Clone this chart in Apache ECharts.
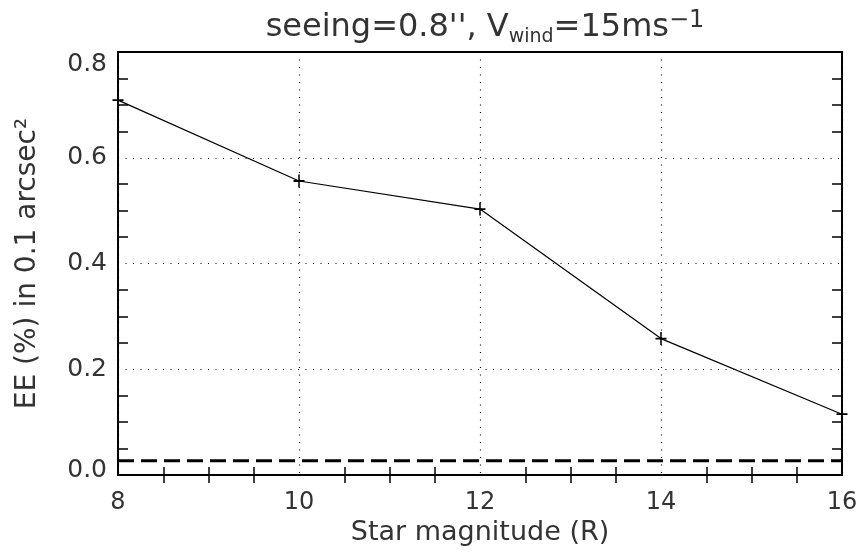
<!DOCTYPE html>
<html>
<head>
<meta charset="utf-8">
<script src="https://cdn.jsdelivr.net/npm/echarts@6/dist/echarts.min.js"></script>
<style>
  html, body { margin: 0; padding: 0; background: #fff; }
  #chart { width: 861px; height: 554px; }
</style>
</head>
<body>
<div id="chart"></div>
<script>
// star magnitude (R) and encircled energy values
var magnitudes = [8, 10, 12, 14, 16];
var eeValues = [0.709, 0.556, 0.503, 0.258, 0.115];
// dashed reference level
var baseLevel = 0.027;
var xTicks = [8, 10, 12, 14, 16];
var yTicks = [0.0, 0.2, 0.4, 0.6, 0.8];

var FONT = 'DejaVu Sans';
var TXT = '#333';

var mainLine = [];
for (var i = 0; i < magnitudes.length; i++) {
	mainLine.push([magnitudes[i], eeValues[i]]);
}
var baseLine = [
	[xTicks[0], baseLevel],
	[xTicks[xTicks.length - 1], baseLevel]
];

function xAxisBase(pos, showLabels) {
	return {
		type : 'value',
		position : pos,
		min : xTicks[0],
		max : xTicks[xTicks.length - 1],
		interval : 2,
		axisLine : { show : false },
		axisTick : { show : false, inside : true },
		minorTick : { show : true, splitNumber : 4, length : 8, lineStyle : { color : '#000', width : 1.5 } },
		splitLine : { show : showLabels, lineStyle : { color : '#000', width : 1.2, type : [1, 6.5] } },
		axisLabel : {
			show : showLabels,
			margin : 16,
			fontFamily : FONT,
			fontSize : 24,
			color : TXT
		}
	};
}

function yAxisBase(pos, showLabels) {
	return {
		type : 'value',
		position : pos,
		min : yTicks[0],
		max : yTicks[yTicks.length - 1],
		interval : 0.2,
		axisLine : { show : false },
		axisTick : { show : false, inside : true },
		minorTick : { show : true, splitNumber : 4, length : 10, lineStyle : { color : '#000', width : 1.5 } },
		splitLine : { show : showLabels, lineStyle : { color : '#000', width : 1.2, type : [1, 6.5] } },
		axisLabel : {
			show : showLabels,
			margin : 11,
			fontFamily : FONT,
			fontSize : 25,
			color : TXT,
			formatter : function (v) {
				if (v === yTicks[yTicks.length - 1]) {
					return '{top|' + v.toFixed(1) + '}';
				}
				if (v === yTicks[0]) {
					return '{bot|' + v.toFixed(1) + '}';
				}
				return v.toFixed(1);
			},
			rich : {
				top : { fontFamily : FONT, fontSize : 25, color : TXT, padding : [24, 0, 0, 0] },
				bot : { fontFamily : FONT, fontSize : 25, color : TXT, padding : [0, 0, 9, 0] }
			}
		}
	};
}

var xMain = xAxisBase('bottom', true);
xMain.name = 'Star magnitude (R)';
xMain.nameLocation = 'middle';
xMain.nameGap = 44;
xMain.nameTextStyle = { fontFamily : FONT, fontSize : 27, color : TXT };

var yMain = yAxisBase('left', true);
yMain.name = 'EE (%) in 0.1 arcsec²';
yMain.nameLocation = 'middle';
yMain.nameGap = 76;
yMain.nameTextStyle = { fontFamily : FONT, fontSize : 28, color : TXT };

var option = {
	backgroundColor : '#fff',
	animation : false,
	title : {
		text : '{n|seeing=0.8\'\', V}{sub|wind}{n|=15ms}{sup|−1}',
		left : 480,
		textAlign : 'center',
		top : 4,
		textStyle : {
			fontWeight : 'normal',
			rich : {
				n : { fontFamily : FONT, fontSize : 32, fontWeight : 'normal', color : TXT, lineHeight : 38, verticalAlign : 'middle' },
				sub : { fontFamily : FONT, fontSize : 19, fontWeight : 'normal', color : TXT, lineHeight : 22, verticalAlign : 'bottom' },
				sup : { fontFamily : FONT, fontSize : 24, fontWeight : 'normal', color : TXT, lineHeight : 26, verticalAlign : 'top' }
			}
		}
	},
	grid : {
		left : 118,
		right : 19,
		top : 52,
		bottom : 79,
		show : true,
		borderColor : '#000',
		borderWidth : 2,
		backgroundColor : 'transparent'
	},
	xAxis : [ xMain, xAxisBase('top', false) ],
	yAxis : [ yMain, yAxisBase('right', false) ],
	series : [ {
		type : 'line',
		data : mainLine,
		symbol : 'path://M4.3,0h1.4v10h-1.4z M0,4.3h10v1.4h-10z',
		symbolSize : [11, 13],
		itemStyle : { color : '#000' },
		lineStyle : { color : '#000', width : 1.2 },
		z : 3
	}, {
		type : 'line',
		data : baseLine,
		symbol : 'none',
		lineStyle : { color : '#000', width : 3, type : [16, 7] },
		z : 2
	} ]
};

var myChart = echarts.init(document.getElementById('chart'));
myChart.setOption(option);
</script>
</body>
</html>
